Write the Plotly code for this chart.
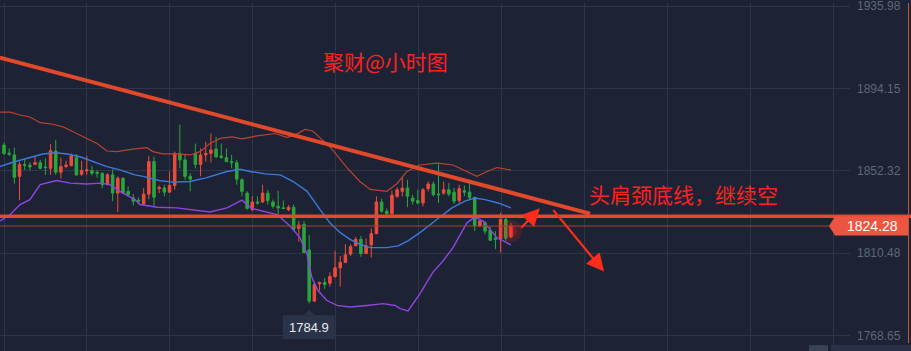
import plotly.graph_objects as go

# ---------------- data ----------------
opens = [1865.4, 1861.3, 1860.4, 1849.5, 1855.5, 1855.2, 1855.6, 1856.5, 1854.3, 1853.6,
         1862.4, 1851.6, 1854.5, 1855.0, 1859.0, 1850.6, 1852.3, 1852.5, 1851.5, 1851.1,
         1845.3, 1850.3, 1841.0, 1848.6, 1841.9, 1838.5, 1837.4, 1835.5, 1840.5, 1857.0,
         1843.3, 1843.6, 1841.5, 1844.9, 1861.2, 1857.9, 1849.5, 1861.2, 1855.6, 1860.4,
         1861.2, 1863.4, 1859.9, 1859.0, 1857.0, 1856.5, 1847.8, 1841.0, 1832.6, 1836.5,
         1836.5, 1841.0, 1836.5, 1834.3, 1833.5, 1832.6, 1833.8, 1823.1, 1825.1, 1812.1,
         1786.1, 1794.9, 1795.5, 1795.2, 1798.6, 1803.0, 1805.7, 1810.0, 1814.2, 1817.5,
         1810.3, 1814.7, 1820.4, 1836.5, 1831.8, 1830.5, 1839.4, 1841.9, 1843.6, 1838.5,
         1837.2, 1836.0, 1843.3, 1845.6, 1840.5, 1841.0, 1842.7, 1841.5, 1837.2, 1842.2,
         1841.5, 1838.9, 1824.3, 1825.9, 1822.1, 1818.1, 1817.5, 1827.6, 1818.7]
highs = [1866.7, 1863.7, 1864.1, 1857.0, 1858.4, 1856.7, 1859.9, 1857.9, 1858.7, 1865.9,
         1867.9, 1859.0, 1857.4, 1861.2, 1860.9, 1857.4, 1860.0, 1854.8, 1852.8, 1851.5,
         1851.1, 1853.1, 1849.5, 1848.9, 1844.4, 1840.4, 1838.9, 1843.6, 1860.0, 1859.5,
         1844.9, 1845.3, 1852.0, 1862.1, 1875.8, 1860.4, 1851.1, 1866.2, 1863.7, 1867.1,
         1871.3, 1869.6, 1866.2, 1863.7, 1860.4, 1857.9, 1848.6, 1841.9, 1839.4, 1839.4,
         1845.3, 1842.7, 1837.7, 1842.2, 1837.2, 1834.8, 1835.2, 1826.8, 1826.8, 1819.7,
         1795.7, 1796.0, 1797.9, 1800.7, 1811.7, 1809.1, 1815.0, 1815.0, 1818.7, 1819.2,
         1818.0, 1823.1, 1839.4, 1838.2, 1833.2, 1842.2, 1843.9, 1849.5, 1847.8, 1840.2,
         1842.7, 1843.6, 1846.9, 1846.9, 1855.6, 1846.9, 1846.1, 1843.6, 1845.3, 1844.9,
         1847.3, 1838.9, 1827.6, 1826.8, 1824.2, 1821.7, 1831.0, 1829.3, 1825.9]
lows = [1860.4, 1859.9, 1845.8, 1837.4, 1852.8, 1852.5, 1855.6, 1853.1, 1850.3, 1850.3,
        1850.3, 1848.3, 1853.6, 1854.5, 1849.8, 1849.8, 1850.3, 1850.0, 1848.9, 1843.5,
        1844.9, 1836.9, 1831.4, 1840.5, 1839.4, 1834.8, 1835.3, 1835.2, 1837.9, 1834.3,
        1841.0, 1839.4, 1841.4, 1842.7, 1853.6, 1847.8, 1841.9, 1853.6, 1849.5, 1857.0,
        1856.6, 1858.7, 1858.4, 1857.0, 1853.6, 1845.3, 1839.4, 1832.6, 1831.8, 1835.2,
        1836.0, 1835.2, 1833.2, 1830.1, 1833.2, 1831.8, 1821.7, 1816.3, 1810.6, 1784.9,
        1785.6, 1791.5, 1792.3, 1793.5, 1797.9, 1793.5, 1805.7, 1809.1, 1814.2, 1808.6,
        1810.0, 1808.3, 1820.1, 1831.0, 1830.1, 1830.1, 1838.5, 1839.4, 1833.8, 1835.2,
        1835.2, 1834.3, 1841.9, 1839.4, 1836.0, 1840.2, 1839.4, 1835.5, 1836.0, 1839.4,
        1837.7, 1821.7, 1823.7, 1820.1, 1816.7, 1812.5, 1810.8, 1816.7, 1818.1]
closes = [1861.2, 1860.8, 1849.1, 1855.6, 1855.2, 1854.3, 1856.5, 1853.6, 1854.0, 1862.6,
          1851.6, 1854.5, 1855.3, 1859.9, 1850.3, 1852.5, 1852.8, 1851.1, 1851.1, 1845.3,
          1850.3, 1841.0, 1848.6, 1841.0, 1840.2, 1836.9, 1836.9, 1840.5, 1857.0, 1838.9,
          1843.9, 1841.5, 1844.9, 1861.2, 1857.9, 1849.5, 1848.1, 1855.6, 1860.4, 1861.2,
          1862.9, 1859.5, 1859.2, 1857.0, 1856.5, 1848.1, 1841.9, 1833.2, 1836.5, 1836.0,
          1841.0, 1837.2, 1834.3, 1833.5, 1833.2, 1833.8, 1822.6, 1824.8, 1810.8, 1786.1,
          1794.5, 1795.5, 1794.5, 1798.6, 1803.0, 1805.7, 1809.6, 1813.8, 1817.5, 1810.3,
          1814.2, 1820.4, 1836.5, 1831.8, 1830.5, 1839.9, 1842.7, 1843.6, 1839.4, 1836.9,
          1836.0, 1842.7, 1845.6, 1840.2, 1840.2, 1842.7, 1840.5, 1836.9, 1843.3, 1841.5,
          1838.9, 1824.3, 1826.8, 1821.7, 1817.0, 1817.5, 1827.6, 1818.1, 1824.28]
bars = list(range(len(opens)))

upper_x = [-0.8, 1.2, 3.1, 5.0, 7.0, 9.5, 11.4, 13.3, 16.0, 18.0, 19.9, 21.8, 24.9, 27.6, 28.8,
           30.7, 33.4, 36.0, 37.9, 39.8, 41.8, 44.1, 46.0, 48.9, 50.8, 52.4, 54.7, 56.3, 58.2,
           59.7, 61.5, 63.0, 66.3, 68.8, 70.8, 74.0, 76.0, 77.9, 80.4, 83.7, 86.8, 89.5, 91.4,
           93.4, 95.3, 98.0]
upper_y = [1882.2, 1882.2, 1880.7, 1879.7, 1876.8, 1876.0, 1874.7, 1872.1, 1868.8, 1866.2,
           1862.4, 1862.1, 1863.4, 1864.1, 1862.1, 1861.0, 1861.0, 1860.4, 1862.1, 1866.2,
           1868.8, 1869.6, 1868.6, 1870.1, 1870.8, 1871.3, 1869.4, 1870.6, 1873.4, 1872.6,
           1868.1, 1864.6, 1854.0, 1846.9, 1842.9, 1841.9, 1845.9, 1852.0, 1855.3, 1856.2,
           1855.3, 1852.0, 1849.5, 1852.0, 1854.0, 1852.8]
mid_x = [-0.8, 1.7, 4.5, 7.5, 9.9, 12.2, 14.7, 17.2, 19.9, 22.4, 25.3, 26.9, 30.2, 32.7, 36.0,
         39.2, 43.1, 45.6, 47.6, 50.5, 53.4, 55.9, 58.6, 61.1, 63.0, 65.0, 66.9, 68.8, 70.8,
         74.0, 76.2, 78.1, 80.8, 83.3, 86.6, 89.1, 91.0, 93.0, 95.5, 98.0]
mid_y = [1854.5, 1856.7, 1858.7, 1860.9, 1861.5, 1860.9, 1859.5, 1857.0, 1854.5, 1852.8,
         1850.3, 1849.5, 1847.3, 1846.6, 1846.9, 1848.9, 1852.0, 1853.1, 1852.0, 1850.8,
         1850.3, 1846.9, 1841.9, 1832.6, 1825.9, 1820.9, 1817.5, 1815.0, 1813.3, 1813.3,
         1814.2, 1816.7, 1821.7, 1826.8, 1833.5, 1836.9, 1838.5, 1837.7, 1836.0, 1833.5]
lower_x = [-0.8, 1.2, 3.1, 5.0, 7.0, 10.2, 12.8, 16.0, 18.6, 20.5, 22.4, 25.3, 26.3, 29.6,
           33.4, 36.5, 39.8, 43.1, 46.0, 47.9, 50.5, 52.8, 55.3, 57.2, 58.6, 59.5, 60.7, 62.4,
           64.4, 66.9, 70.2, 73.3, 75.6, 76.6, 78.1, 80.4, 82.9, 84.9, 86.8, 89.5, 91.0, 92.6,
           95.3, 98.0]
lower_y = [1826.8, 1830.1, 1835.2, 1837.7, 1845.3, 1847.4, 1846.1, 1845.6, 1846.1, 1845.3,
           1841.9, 1837.7, 1835.2, 1833.8, 1833.5, 1832.6, 1831.4, 1833.5, 1837.4, 1833.2,
           1831.4, 1830.1, 1824.3, 1818.4, 1810.0, 1798.2, 1791.5, 1786.4, 1783.9, 1783.1,
           1783.9, 1784.8, 1783.9, 1782.3, 1781.1, 1789.8, 1800.7, 1806.6, 1813.3, 1825.9,
           1828.8, 1826.8, 1818.3, 1814.7]

tick_vals = [1935.98, 1894.15, 1852.32, 1810.48, 1768.65]
tick_text = ["1935.98", "1894.15", "1852.32", "1810.48", "1768.65"]
last_price = 1824.28
low_label = "1784.9"
corner_label = "1758.88"
neckline = 1829.3
trend_x = [-0.8, 113.3]
trend_y = [1909.9, 1830.6]
title_text = "聚财@小时图"
note_text = "头肩颈底线，继续空"

# ---------------- styling ----------------
BG = "#1d2334"
GRID = "#2d3546"
RED = "#ef4b3b"
GREEN = "#2aa63c"
XR = [-0.773, 163.55]
YR = [1760.74, 1937.65]
PW = 850.0  # plot width in px
H = 351.0

fig = go.Figure()

# Bollinger bands
fig.add_trace(go.Scatter(x=upper_x, y=upper_y, mode="lines",
                         line=dict(color="#b9432f", width=1.2), hoverinfo="skip"))
fig.add_trace(go.Scatter(x=mid_x, y=mid_y, mode="lines",
                         line=dict(color="#3b79dc", width=1.4), hoverinfo="skip"))
fig.add_trace(go.Scatter(x=lower_x, y=lower_y, mode="lines",
                         line=dict(color="#8e45e2", width=1.4), hoverinfo="skip"))

# glow on the last candle
fig.add_trace(go.Scatter(x=[bars[-1]], y=[closes[-1] - 2.5], mode="markers",
                         marker=dict(size=22, color="rgba(255,30,30,0.18)"), hoverinfo="skip"))
fig.add_trace(go.Scatter(x=[bars[-1]], y=[closes[-1] - 2.5], mode="markers",
                         marker=dict(size=12, color="rgba(255,30,30,0.25)"), hoverinfo="skip"))

# candles (red = up, green = down)
fig.add_trace(go.Candlestick(
    x=bars, open=opens, high=highs, low=lows, close=closes,
    increasing=dict(line=dict(color=RED, width=1), fillcolor=RED),
    decreasing=dict(line=dict(color=GREEN, width=1), fillcolor=GREEN),
    whiskerwidth=0, hoverinfo="skip"))

shapes = []
# thin last-price line
shapes.append(dict(type="line", xref="paper", yref="y", x0=0, x1=835 / PW,
                   y0=last_price, y1=last_price, line=dict(color="#a8412f", width=1)))
# horizontal neckline (thick)
shapes.append(dict(type="line", xref="paper", yref="y", x0=0, x1=911 / PW,
                   y0=neckline, y1=neckline, line=dict(color="#e8482d", width=3.5)))
# descending trend line
shapes.append(dict(type="line", xref="x", yref="y", x0=trend_x[0], x1=trend_x[1],
                   y0=trend_y[0], y1=trend_y[1], line=dict(color="#e2492b", width=4)))
# right border
shapes.append(dict(type="line", xref="paper", yref="paper", x0=908.5 / PW, x1=908.5 / PW,
                   y0=1 - 343 / H, y1=1, line=dict(color="#c9552c", width=1)))
# price label (pentagon)
px0, px1, pxt = 835 / PW, 908 / PW, 829 / PW
shapes.append(dict(type="path", xref="paper", yref="y",
                   path=f"M {pxt},{last_price} L {px0},{last_price + 4.8} L {px1},{last_price + 4.8} "
                        f"L {px1},{last_price - 4.8} L {px0},{last_price - 4.8} Z",
                   fillcolor="#ec5541", line=dict(width=0)))
# low label box + pointer
lx = bars[lows.index(min(lows))]
shapes.append(dict(type="rect", xref="x", yref="paper", x0=lx - 5.1, x1=lx + 4.9,
                   y0=1 - 339 / H, y1=1 - 315 / H, fillcolor="#2a3347", line=dict(width=0)))
shapes.append(dict(type="path", xref="x", yref="paper",
                   path=f"M {lx - 1.1},{1 - 315 / H} L {lx},{1 - 310 / H} L {lx + 1.1},{1 - 315 / H} Z",
                   fillcolor="#2a3347", line=dict(width=0)))
# bottom-right boxes
shapes.append(dict(type="rect", xref="paper", yref="paper", x0=809 / PW, x1=828 / PW,
                   y0=-0.01, y1=1 - 345 / H, fillcolor="#3a4255", line=dict(width=0)))
shapes.append(dict(type="rect", xref="paper", yref="paper", x0=831 / PW, x1=911 / PW,
                   y0=-0.01, y1=1 - 345 / H, fillcolor="#283145", line=dict(width=0)))

annotations = []
annotations.append(dict(text=f"{last_price:.2f}", xref="paper", yref="y", x=872 / PW, y=last_price,
                        showarrow=False, font=dict(color="#ffffff", size=14, family="Liberation Sans"),
                        xanchor="center", yanchor="middle"))
annotations.append(dict(text=low_label, xref="x", yref="paper", x=lx - 0.1, y=1 - 327 / H,
                        showarrow=False, font=dict(color="#e8ebf0", size=13, family="Liberation Sans"),
                        xanchor="center", yanchor="middle"))
annotations.append(dict(text=corner_label, xref="paper", yref="paper", x=871 / PW, y=1 - 357 / H,
                        showarrow=False, font=dict(color="#ffffff", size=14, family="Liberation Sans"),
                        xanchor="center", yanchor="middle"))
annotations.append(dict(text=title_text, xref="paper", yref="paper", x=385 / PW, y=1 - 58 / H,
                        showarrow=False, font=dict(color="#ff2020", size=21, family="Noto Sans CJK SC"),
                        xanchor="center", yanchor="middle"))
annotations.append(dict(text=note_text, xref="paper", yref="paper", x=683 / PW, y=1 - 193 / H,
                        showarrow=False, font=dict(color="#ff2020", size=21, family="Noto Sans CJK SC"),
                        xanchor="center", yanchor="middle"))
# arrows
annotations.append(dict(text="", x=103.6, y=1833.3, ax=-20, ay=21, xref="x", yref="y",
                        showarrow=True, arrowhead=2, arrowsize=1.6, arrowwidth=2.2,
                        arrowcolor="#ff2b1c"))
annotations.append(dict(text="", x=116.0, y=1801.1, ax=-52, ay=-63, xref="x", yref="y",
                        showarrow=True, arrowhead=2, arrowsize=1.6, arrowwidth=2.2,
                        arrowcolor="#ff2b1c"))

fig.update_layout(
    width=911, height=351,
    margin=dict(l=0, r=61, t=0, b=0),
    paper_bgcolor=BG, plot_bgcolor=BG,
    showlegend=False,
    boxgap=0.35, boxgroupgap=0.25,
    shapes=shapes, annotations=annotations,
    xaxis=dict(range=XR, showgrid=True, gridcolor=GRID, gridwidth=1, tick0=0, dtick=16.03,
               tickmode="linear", showticklabels=False, zeroline=False, showline=False,
               rangeslider=dict(visible=False), fixedrange=True),
    yaxis=dict(range=YR, side="right", tickmode="array", tickvals=tick_vals, ticktext=tick_text,
               showgrid=True, gridcolor=GRID, gridwidth=1, zeroline=False, showline=False,
               ticks="", ticklabelstandoff=6, ticklabeloverflow="allow",
               tickfont=dict(color="#5f6778", size=12, family="Liberation Sans"), fixedrange=True),
)

fig.write_html("out.html")
